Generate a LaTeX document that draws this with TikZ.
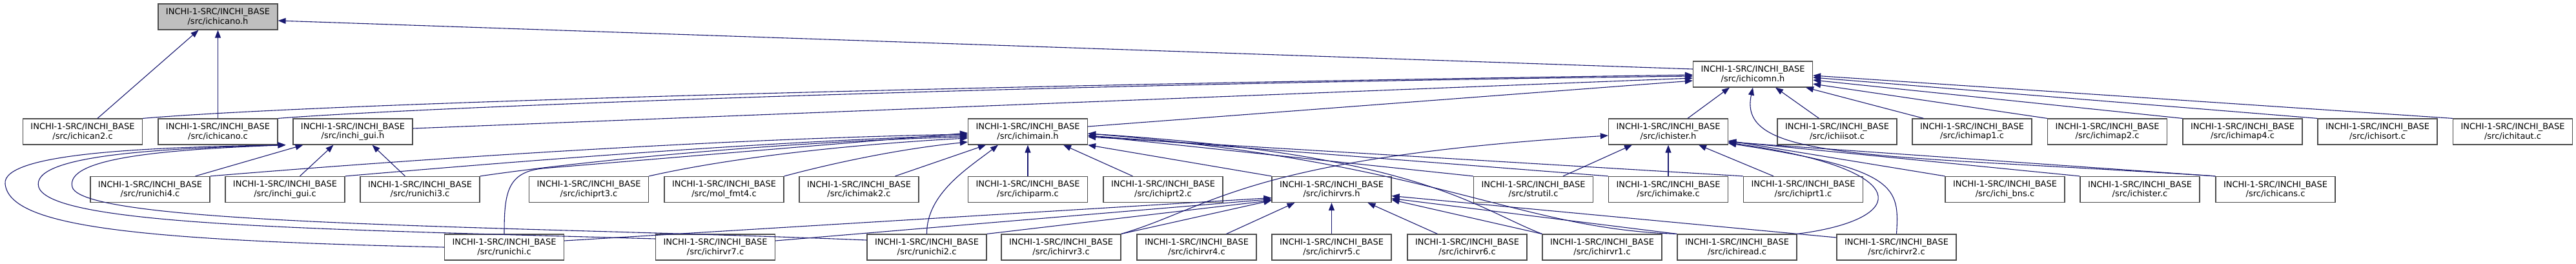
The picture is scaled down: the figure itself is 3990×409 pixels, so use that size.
\documentclass[tikz,border=0pt]{standalone}
\usepackage{fontspec}
\setmainfont{DejaVu Sans}
\usepackage{xcolor}
\usepackage{tikz}
\usetikzlibrary{arrows.meta}
\newcommand{\incpath}[1]{INCHI-1-SRC/INCHI\_BASE\\/src/#1}

\begin{document}
\begin{tikzpicture}[x=1pt,y=-1pt,
  file/.style={draw=black!70, line width=1.2pt, fill=white, minimum width=185pt,
    minimum height=40pt, inner sep=0pt, align=center, font=\fontsize{13}{14.5}\selectfont},
  rootfile/.style={file, fill=black!25},
  dep/.style={draw=midblue, line width=1.1pt, -{Triangle[length=12pt,width=9pt]}}]
  % Define colors
  \definecolor{midblue}{HTML}{191970}
  \useasboundingbox (0,0) rectangle (3990,409);

  % Headers on top
  \node[rootfile] (ichicanoH) at (337.5,26) {\incpath{ichicano.h}};
  \node[file] (ichicomnH) at (2715,115) {\incpath{ichicomn.h}};

  % Second row
  \node[file] (ichican2) at (128,204) {\incpath{ichican2.c}};
  \node[file] (ichicanoC) at (337.5,204) {\incpath{ichicano.c}};
  \node[file] (guiH) at (546.5,204) {\incpath{inchi\_gui.h}};
  \node[file] (ichimainH) at (1592,204) {\incpath{ichimain.h}};
  \node[file] (ichisterH) at (2584,204) {\incpath{ichister.h}};
  \node[file] (ichiisot) at (2845.5,204) {\incpath{ichiisot.c}};
  \node[file] (ichimap1) at (3054.5,204) {\incpath{ichimap1.c}};
  \node[file] (ichimap2) at (3264,204) {\incpath{ichimap2.c}};
  \node[file] (ichimap4) at (3473.5,204) {\incpath{ichimap4.c}};
  \node[file] (ichisort) at (3682.5,204) {\incpath{ichisort.c}};
  \node[file] (ichitaut) at (3892,204) {\incpath{ichitaut.c}};

  % Third row
  \node[file] (runichi4) at (232.5,293.5) {\incpath{runichi4.c}};
  \node[file] (guiC) at (441.5,293.5) {\incpath{inchi\_gui.c}};
  \node[file] (runichi3) at (650.5,293.5) {\incpath{runichi3.c}};
  \node[file] (ichiprt3) at (912,293.5) {\incpath{ichiprt3.c}};
  \node[file] (molfmt4) at (1121.5,293.5) {\incpath{mol\_fmt4.c}};
  \node[file] (ichimak2) at (1330.5,293.5) {\incpath{ichimak2.c}};
  \node[file] (ichiparm) at (1592,293.5) {\incpath{ichiparm.c}};
  \node[file] (ichiprt2) at (1801.5,293.5) {\incpath{ichiprt2.c}};
  \node[file] (ichirvrsH) at (2062.5,293.5) {\incpath{ichirvrs.h}};
  \node[file] (strutil) at (2375,293.5) {\incpath{strutil.c}};
  \node[file] (ichimake) at (2584,293.5) {\incpath{ichimake.c}};
  \node[file] (ichiprt1) at (2793,293.5) {\incpath{ichiprt1.c}};
  \node[file] (ichibns) at (3105.5,293.5) {\incpath{ichi\_bns.c}};
  \node[file] (ichisterC) at (3314.5,293.5) {\incpath{ichister.c}};
  \node[file] (ichicans) at (3524.5,293.5) {\incpath{ichicans.c}};

  % Bottom row
  \node[file] (runichi) at (781,383) {\incpath{runichi.c}};
  \node[file] (ichirvr7) at (1108,383) {\incpath{ichirvr7.c}};
  \node[file] (runichi2) at (1435.5,383) {\incpath{runichi2.c}};
  \node[file] (ichirvr3) at (1643.5,383) {\incpath{ichirvr3.c}};
  \node[file] (ichirvr4) at (1853.5,383) {\incpath{ichirvr4.c}};
  \node[file] (ichirvr5) at (2062.5,383) {\incpath{ichirvr5.c}};
  \node[file] (ichirvr6) at (2272.5,383) {\incpath{ichirvr6.c}};
  \node[file] (ichirvr1) at (2481.5,383) {\incpath{ichirvr1.c}};
  \node[file] (ichiread) at (2690.5,383) {\incpath{ichiread.c}};
  \node[file] (ichirvr2) at (2937.5,383) {\incpath{ichirvr2.c}};

  % Includes of ichicano.h
  \draw[dep] ([xshift=23pt]ichican2.north) -- ([xshift=-30pt]ichicanoH.south);
  \draw[dep] (ichicanoC) -- (ichicanoH);
  \draw[dep] ([yshift=8pt]ichicomnH.west) -- ([yshift=-6pt]ichicanoH.east);

  % Includes of ichicomn.h
  \draw[dep] (ichican2.north east) .. controls (500,160) and (1500,132) .. ([yshift=-1pt]ichicomnH.west);
  \draw[dep] (ichicanoC.north east) .. controls (650,166) and (1600,130) .. ([yshift=-3pt]ichicomnH.west);
  \draw[dep] ([yshift=5pt]guiH.east) -- ([yshift=-6pt]ichicomnH.west);
  \draw[dep] ([yshift=8pt]ichimainH.east) -- ([yshift=-10pt]ichicomnH.west);
  \draw[dep] ([xshift=30pt]ichisterH.north) -- ([xshift=-36pt]ichicomnH.south);
  \draw[dep] (ichicans.north west) .. controls (2900,238) and (2690,250) .. (ichicomnH.south);
  \draw[dep] ([xshift=-28pt]ichiisot.north) -- ([xshift=35pt]ichicomnH.south);
  \draw[dep] ([xshift=-75pt]ichimap1.north) -- ([xshift=82pt]ichicomnH.south);
  \draw[dep] (ichimap2.north west) -- ([yshift=-15pt]ichicomnH.east);
  \draw[dep] (ichimap4.north west) -- ([yshift=-9pt]ichicomnH.east);
  \draw[dep] (ichisort.north west) -- ([yshift=-5pt]ichicomnH.east);
  \draw[dep] (ichitaut.north west) -- ([yshift=-2pt]ichicomnH.east);

  % Includes of inchi_gui.h
  \draw[dep] ([xshift=70pt]runichi4.north) -- ([xshift=-77pt]guiH.south);
  \draw[dep] ([xshift=23pt]guiC.north) -- ([xshift=-30pt]guiH.south);
  \draw[dep] ([xshift=-23pt]runichi3.north) -- ([xshift=30pt]guiH.south);
  \draw[dep] (runichi.west) .. controls (200,372) and (15,350) .. (8,285)
    .. controls (2,235) and (250,228) .. ([xshift=-104pt]guiH.south);
  \draw[dep] ([yshift=13pt]ichirvr7.west) .. controls (500,355) and (80,350) .. (60,290)
    .. controls (45,240) and (250,230) .. ([xshift=-104pt]guiH.south);
  \draw[dep] ([yshift=11pt]runichi2.west) .. controls (800,350) and (130,350) .. (112,290)
    .. controls (100,245) and (250,232) .. ([xshift=-104pt]guiH.south);

  % Includes of ichimain.h
  \draw[dep] (runichi4.north east) .. controls (600,250) and (1100,215) .. ([yshift=-4pt]ichimainH.west);
  \draw[dep] (guiC.north east) .. controls (800,250) and (1200,218) .. ([yshift=-6pt]ichimainH.west);
  \draw[dep] (runichi3.north east) .. controls (900,250) and (1200,220) .. ([yshift=-8pt]ichimainH.west);
  \draw[dep] (ichiprt3.north east) .. controls (1150,240) and (1350,222) .. ([yshift=-10pt]ichimainH.west);
  \draw[dep] (molfmt4.north east) .. controls (1300,250) and (1400,230) .. ([yshift=-16pt]ichimainH.west);
  \draw[dep] (runichi.north) .. controls (781,300) and (785,267) .. (840,261) -- ([yshift=-2pt]ichimainH.west);
  \draw[dep] ([xshift=56pt]ichimak2.north) -- ([xshift=-65pt]ichimainH.south);
  \draw[dep] (runichi2.north) .. controls (1435,300) and (1500,260) .. ([xshift=-46pt]ichimainH.south);
  \draw[dep] (ichiparm) -- (ichimainH);
  \draw[dep] ([xshift=-47pt]ichiprt2.north) -- ([xshift=55pt]ichimainH.south);
  \draw[dep] (ichirvrsH.north west) -- (ichimainH.south east);
  \draw[dep] (strutil.north west) -- ([yshift=-6pt]ichimainH.east);
  \draw[dep] (ichimake.north west) -- ([yshift=-6pt]ichimainH.east);
  \draw[dep] (ichiprt1.north west) -- ([yshift=-8pt]ichimainH.east);
  \draw[dep] (ichirvr1.north west) .. controls (2280,320) and (2200,240) .. ([yshift=-3pt]ichimainH.east);
  \draw[dep] (ichiread.north west) .. controls (2350,355) and (2220,250) .. ([yshift=-3pt]ichimainH.east);

  % Includes of ichister.h
  \draw[dep] ([xshift=46pt]strutil.north) -- ([xshift=-56pt]ichisterH.south);
  \draw[dep] (ichimake) -- (ichisterH);
  \draw[dep] ([xshift=-46pt]ichiprt1.north) -- ([xshift=47pt]ichisterH.south);
  \draw[dep] (ichirvr3.north east) .. controls (1880,320) and (1930,245) .. ([yshift=-6pt]ichisterH.west);
  \draw[dep] (ichibns.north west) -- ([yshift=-14pt]ichisterH.east);
  \draw[dep] (ichisterC.north west) -- ([yshift=-15pt]ichisterH.east);
  \draw[dep] (ichicans.north west) -- ([yshift=-16pt]ichisterH.east);
  \draw[dep] (ichiread.north east) .. controls (2960,340) and (2970,262) .. ([yshift=-17pt]ichisterH.east);
  \draw[dep] (ichirvr2.north) .. controls (2942,290) and (2940,262) .. ([yshift=-18pt]ichisterH.east);

  % Includes of ichirvrs.h
  \draw[dep] ([yshift=10pt]runichi.east) -- ([yshift=-13pt]ichirvrsH.west);
  \draw[dep] ([yshift=10pt]ichirvr7.east) -- ([yshift=-15pt]ichirvrsH.west);
  \draw[dep] (runichi2.north east) -- ([yshift=-17pt]ichirvrsH.west);
  \draw[dep] (ichirvr3.north east) -- ([yshift=-17pt]ichirvrsH.west);
  \draw[dep] ([xshift=46pt]ichirvr4.north) -- ([xshift=-57pt]ichirvrsH.south);
  \draw[dep] (ichirvr5) -- (ichirvrsH);
  \draw[dep] ([xshift=-46pt]ichirvr6.north) -- ([xshift=56pt]ichirvrsH.south);
  \draw[dep] (ichirvr1.north west) -- ([yshift=-16pt]ichirvrsH.east);
  \draw[dep] (ichiread.north west) -- ([yshift=-14pt]ichirvrsH.east);
  \draw[dep] ([yshift=15pt]ichirvr2.west) -- ([yshift=-10pt]ichirvrsH.east);
\end{tikzpicture}
\end{document}
